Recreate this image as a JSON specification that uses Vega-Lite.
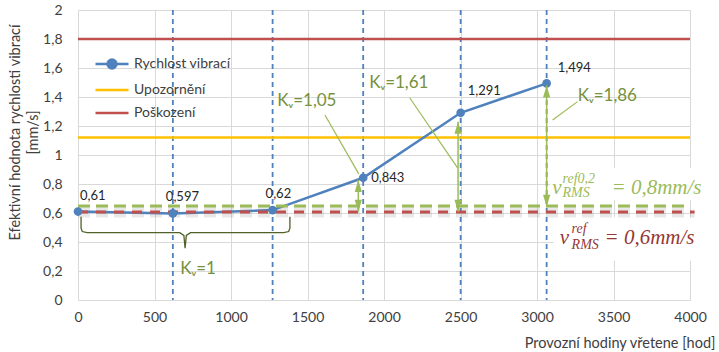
{
  "$schema": "https://vega.github.io/schema/vega-lite/v6.json",
  "width": 612,
  "height": 290,
  "autosize": "none",
  "padding": {"left": 78, "top": 10, "right": 29, "bottom": 52},
  "background": "white",
  "config": {
    "locale": {"number": {"decimal": ",", "thousands": "", "grouping": [3], "currency": ["", ""]}},
    "font": "Lato",
    "view": {"stroke": null},
    "axis": {
      "gridColor": "#d9d9d9", "gridWidth": 1, "domain": false, "ticks": false,
      "labelColor": "#404040", "labelFont": "Lato", "labelFontSize": 14, "labelOverlap": false,
      "titleColor": "#404040", "titleFont": "Lato", "titleFontSize": 14.5, "titleFontWeight": "normal"
    }
  },
  "datasets": {
    "pts": [
      {"x": 0, "y": 0.61, "s": "Rychlost vibrací", "lab": "0,61"},
      {"x": 620, "y": 0.597, "s": "Rychlost vibrací", "lab": "0,597"},
      {"x": 1272, "y": 0.62, "s": "Rychlost vibrací", "lab": "0,62"},
      {"x": 1864, "y": 0.843, "s": "Rychlost vibrací", "lab": "0,843"},
      {"x": 2501, "y": 1.291, "s": "Rychlost vibrací", "lab": "1,291"},
      {"x": 3063, "y": 1.494, "s": "Rychlost vibrací", "lab": "1,494"}
    ]
  },
  "layer": [
    {
      "data": {"values": [
        {"x": 3085, "x2": 4120, "y": 0.69, "y2": 0.91},
        {"x": 3110, "x2": 4100, "y": 0.27, "y2": 0.57}
      ]},
      "mark": {"type": "rect", "fill": "white", "stroke": null},
      "encoding": {
        "x": {"field": "x", "type": "quantitative",
          "scale": {"domain": [0, 4000], "nice": false},
          "axis": {"title": "Provozní hodiny vřetene [hod]", "values": [0, 500, 1000, 1500, 2000, 2500, 3000, 3500, 4000],
            "tickCount": 20, "format": "d", "labelOverlap": false,
            "labelPadding": 10, "labelFlush": false, "titleX": 637, "titleY": 43, "titleAlign": "right", "titleBaseline": "middle", "titleAnchor": null}},
        "x2": {"field": "x2"},
        "y": {"field": "y", "type": "quantitative",
          "scale": {"domain": [0, 2], "nice": false},
          "axis": {"title": ["Efektivní hodnota rychlosti vibrací", "[mm/s]"],
            "values": [0, 0.2, 0.4, 0.6, 0.8, 1, 1.2, 1.4, 1.6, 1.8, 2], "tickCount": 20,
            "format": "~g", "labelOverlap": false,
            "labelPadding": 16, "titleAngle": -90, "titleX": -70, "titleY": 122,
            "titleBaseline": "top", "titleAlign": "center", "titleLineHeight": 18}},
        "y2": {"field": "y2"}
      }
    },
    {
      "data": {"values": [{"x": 620}, {"x": 1272}, {"x": 1864}, {"x": 2501}, {"x": 3063}]},
      "mark": {"type": "rule", "color": "#4f81bd", "strokeDash": [5, 4], "strokeWidth": 1.8},
      "encoding": {"x": {"field": "x", "type": "quantitative"}}
    },
    {
      "data": {"values": [{"s": "Upozornění", "y": 1.12}, {"s": "Poškození", "y": 1.8}]},
      "mark": {"type": "rule", "strokeWidth": 2.5},
      "encoding": {
        "y": {"field": "y", "type": "quantitative"},
        "color": {"field": "s", "type": "nominal",
          "scale": {"domain": ["Rychlost vibrací", "Upozornění", "Poškození"], "range": ["#4f81bd", "#ffc000", "#c0504d"]},
          "legend": {"title": null, "orient": "none", "legendX": 27, "legendY": 47,
            "symbolType": "M-3,0L3,0", "symbolSize": 121, "symbolStrokeWidth": 2.5,
            "labelFont": "Lato", "labelFontSize": 14, "labelColor": "#404040", "labelOffset": 15, "rowPadding": 9,
            "encode": {"symbols": {"update": {
              "shape": {"signal": "datum.value === 'Rychlost vibrací' ? 'M-3,0L3,0M0.8,0A0.8,0.8,0,1,1,-0.8,0A0.8,0.8,0,1,1,0.8,0Z' : 'M-3,0L3,0'"},
              "fill": {"signal": "datum.value === 'Rychlost vibrací' ? '#4f81bd' : 'transparent'"}
            }}}}
        }
      }
    },
    {
      "data": {"name": "pts"},
      "mark": {"type": "line", "strokeWidth": 2.5},
      "encoding": {
        "x": {"field": "x", "type": "quantitative"},
        "y": {"field": "y", "type": "quantitative"},
        "color": {"field": "s", "type": "nominal"}
      }
    },
    {
      "data": {"values": [{"x": 0, "x2": 3975, "y": 0.632}, {"x": 0, "x2": 4030, "y": 0.59}]},
      "mark": {"type": "rule", "color": "#808080", "opacity": 0.18, "strokeWidth": 6, "strokeDash": [12, 6]},
      "encoding": {"x": {"field": "x", "type": "quantitative"}, "x2": {"field": "x2"}, "y": {"field": "y", "type": "quantitative"}}
    },
    {
      "data": {"values": [{"x": 0, "x2": 3975, "y": 0.648}]},
      "mark": {"type": "rule", "color": "#9bbb59", "strokeWidth": 3, "strokeDash": [12, 6]},
      "encoding": {"x": {"field": "x", "type": "quantitative"}, "x2": {"field": "x2"}, "y": {"field": "y", "type": "quantitative"}}
    },
    {
      "data": {"values": [{"x": 0, "x2": 4030, "y": 0.607}]},
      "mark": {"type": "rule", "color": "#c0504d", "strokeWidth": 3, "strokeDash": [10, 8]},
      "encoding": {"x": {"field": "x", "type": "quantitative"}, "x2": {"field": "x2"}, "y": {"field": "y", "type": "quantitative"}}
    },
    {
      "data": {"name": "pts"},
      "mark": {"type": "point", "filled": true, "size": 75, "opacity": 1, "color": "#4f81bd"},
      "encoding": {"x": {"field": "x", "type": "quantitative"}, "y": {"field": "y", "type": "quantitative"}}
    },
    {
      "data": {"values": [{"x": 1832, "y": 0.609, "y2": 0.828}, {"x": 2484, "y": 0.609, "y2": 1.23}, {"x": 3063, "y": 0.643, "y2": 1.48}]},
      "layer": [
        {"mark": {"type": "rule", "color": "#9bbb59", "strokeWidth": 1.5},
          "encoding": {"x": {"field": "x", "type": "quantitative"}, "y": {"field": "y", "type": "quantitative"}, "y2": {"field": "y2"}}},
        {"mark": {"type": "point", "filled": true, "opacity": 1, "color": "#9bbb59", "size": 144, "shape": "M0,0L-0.6,2L0.6,2Z"},
          "encoding": {"x": {"field": "x", "type": "quantitative"}, "y": {"field": "y2", "type": "quantitative"}}},
        {"mark": {"type": "point", "filled": true, "opacity": 1, "color": "#9bbb59", "size": 144, "shape": "M0,0L-0.6,-2L0.6,-2Z"},
          "encoding": {"x": {"field": "x", "type": "quantitative"}, "y": {"field": "y", "type": "quantitative"}}}
      ]
    },
    {
      "data": {"values": [
        {"x": 1614, "y": 1.276, "x2": 1835, "y2": 0.87},
        {"x": 2168, "y": 1.395, "x2": 2482, "y2": 0.91},
        {"x": 3265, "y": 1.368, "x2": 3102, "y2": 1.241}
      ]},
      "mark": {"type": "rule", "color": "#9bbb59", "strokeWidth": 1.2},
      "encoding": {"x": {"field": "x", "type": "quantitative"}, "x2": {"field": "x2"}, "y": {"field": "y", "type": "quantitative"}, "y2": {"field": "y2"}}
    },
    {
      "data": {"values": [
        {"o": 1, "x": 20, "y": 0.574}, {"o": 2, "x": 20, "y": 0.495}, {"o": 3, "x": 28, "y": 0.472}, {"o": 4, "x": 60, "y": 0.464},
        {"o": 5, "x": 665, "y": 0.464}, {"o": 6, "x": 692, "y": 0.445}, {"o": 7, "x": 700, "y": 0.357},
        {"o": 8, "x": 708, "y": 0.445}, {"o": 9, "x": 735, "y": 0.464}, {"o": 10, "x": 1345, "y": 0.464},
        {"o": 11, "x": 1377, "y": 0.472}, {"o": 12, "x": 1385, "y": 0.495}, {"o": 13, "x": 1385, "y": 0.574}
      ]},
      "mark": {"type": "line", "color": "#4f6228", "strokeWidth": 1.3},
      "encoding": {"x": {"field": "x", "type": "quantitative"}, "y": {"field": "y", "type": "quantitative"}, "order": {"field": "o", "type": "quantitative"}}
    },
    {
      "data": {"values": [
        {"x": 1496, "y": 1.372, "t": "Kᵥ=1,05"},
        {"x": 2097, "y": 1.497, "t": "Kᵥ=1,61"},
        {"x": 3460, "y": 1.407, "t": "Kᵥ=1,86"},
        {"x": 785, "y": 0.214, "t": "Kᵥ=1"}
      ]},
      "mark": {"type": "text", "font": "Lato", "fontSize": 17, "color": "#76923c", "align": "center", "baseline": "middle"},
      "encoding": {"x": {"field": "x", "type": "quantitative"}, "y": {"field": "y", "type": "quantitative"}, "text": {"field": "t"}}
    },
    {
      "data": {"name": "pts"},
      "transform": [{"filter": "datum.x < 10"}],
      "mark": {"type": "text", "fontSize": 13, "color": "#262626", "align": "left", "baseline": "middle", "dx": 2, "dy": -16},
      "encoding": {"x": {"field": "x", "type": "quantitative"}, "y": {"field": "y", "type": "quantitative"}, "text": {"field": "lab"}}
    },
    {
      "data": {"name": "pts"},
      "transform": [{"filter": "datum.x > 10 && datum.x < 1500"}],
      "mark": {"type": "text", "fontSize": 13, "color": "#262626", "align": "left", "baseline": "middle", "dx": -7, "dy": -16},
      "encoding": {"x": {"field": "x", "type": "quantitative"}, "y": {"field": "y", "type": "quantitative"}, "text": {"field": "lab"}}
    },
    {
      "data": {"name": "pts"},
      "transform": [{"filter": "datum.x > 1500 && datum.x < 2000"}],
      "mark": {"type": "text", "fontSize": 13, "color": "#262626", "align": "left", "baseline": "middle", "dx": 8, "dy": 0},
      "encoding": {"x": {"field": "x", "type": "quantitative"}, "y": {"field": "y", "type": "quantitative"}, "text": {"field": "lab"}}
    },
    {
      "data": {"name": "pts"},
      "transform": [{"filter": "datum.x > 2000 && datum.x < 2800"}],
      "mark": {"type": "text", "fontSize": 13, "color": "#262626", "align": "left", "baseline": "middle", "dx": 7, "dy": -22},
      "encoding": {"x": {"field": "x", "type": "quantitative"}, "y": {"field": "y", "type": "quantitative"}, "text": {"field": "lab"}}
    },
    {
      "data": {"name": "pts"},
      "transform": [{"filter": "datum.x > 2800"}],
      "mark": {"type": "text", "fontSize": 13, "color": "#262626", "align": "left", "baseline": "middle", "dx": 11, "dy": -15},
      "encoding": {"x": {"field": "x", "type": "quantitative"}, "y": {"field": "y", "type": "quantitative"}, "text": {"field": "lab"}}
    },
    {
      "data": {"values": [{"x": 3100, "y": 0.772, "t": "v"}, {"x": 3487, "y": 0.772, "t": "= 0,8mm/s"}]},
      "mark": {"type": "text", "font": "Liberation Serif", "fontStyle": "italic", "fontSize": 21, "color": "#9bbb59", "align": "left", "baseline": "middle"},
      "encoding": {"x": {"field": "x", "type": "quantitative"}, "y": {"field": "y", "type": "quantitative"}, "text": {"field": "t"}}
    },
    {
      "data": {"values": [{"x": 3167, "y": 0.834, "t": "ref0,2"}, {"x": 3167, "y": 0.738, "t": "RMS"}]},
      "mark": {"type": "text", "font": "Liberation Serif", "fontStyle": "italic", "fontSize": 14, "color": "#9bbb59", "align": "left", "baseline": "middle"},
      "encoding": {"x": {"field": "x", "type": "quantitative"}, "y": {"field": "y", "type": "quantitative"}, "text": {"field": "t"}}
    },
    {
      "data": {"values": [{"x": 3148, "y": 0.428, "t": "v"}, {"x": 3441, "y": 0.428, "t": "= 0,6mm/s"}]},
      "mark": {"type": "text", "font": "Liberation Serif", "fontStyle": "italic", "fontSize": 21, "color": "#953735", "align": "left", "baseline": "middle"},
      "encoding": {"x": {"field": "x", "type": "quantitative"}, "y": {"field": "y", "type": "quantitative"}, "text": {"field": "t"}}
    },
    {
      "data": {"values": [{"x": 3226, "y": 0.49, "t": "ref"}, {"x": 3226, "y": 0.379, "t": "RMS"}]},
      "mark": {"type": "text", "font": "Liberation Serif", "fontStyle": "italic", "fontSize": 14, "color": "#953735", "align": "left", "baseline": "middle"},
      "encoding": {"x": {"field": "x", "type": "quantitative"}, "y": {"field": "y", "type": "quantitative"}, "text": {"field": "t"}}
    }
  ]
}
